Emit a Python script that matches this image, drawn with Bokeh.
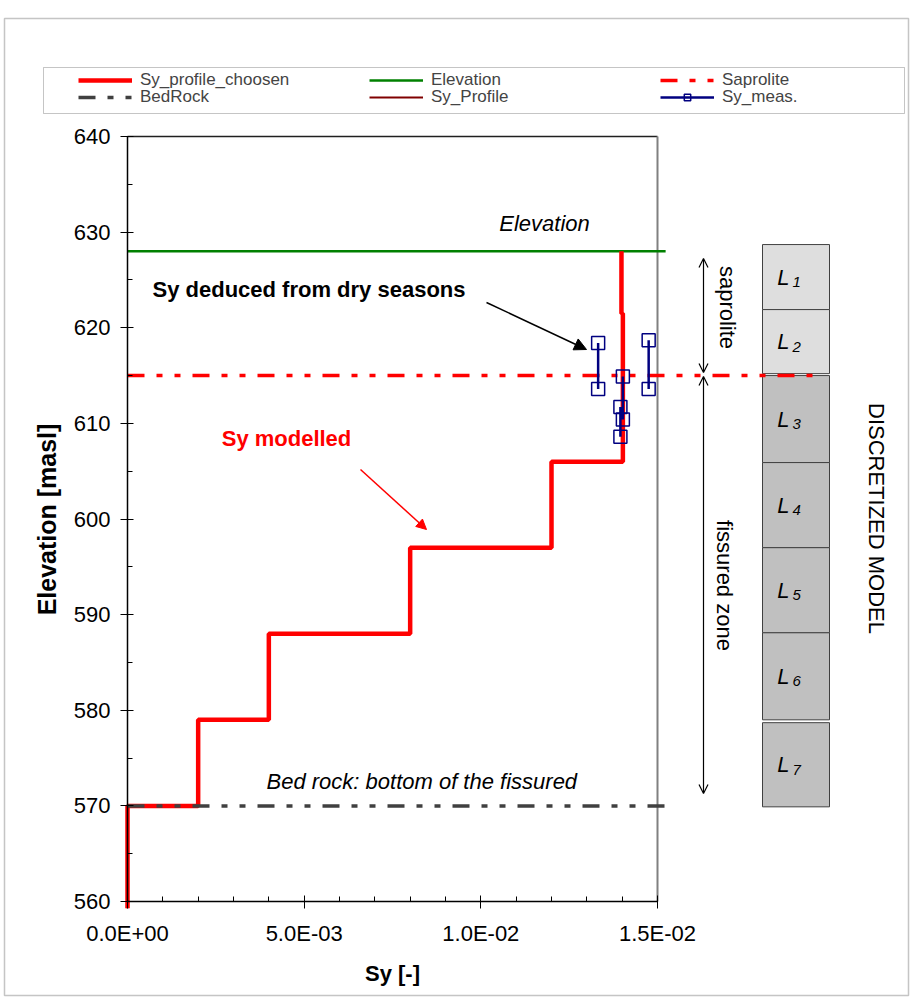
import math
from bokeh.plotting import figure
from bokeh.models import (Range1d, FixedTicker, Legend, LegendItem, Label, Arrow,
                          NormalHead, OpenHead, BoxAnnotation, ColumnDataSource, LinearAxis)
from bokeh.core.properties import value
from bokeh.embed import file_html
from bokeh.resources import INLINE

nan = float("nan")

# ---------------- data ----------------
profile_sy = [0.0, 0.0, 0.002, 0.002, 0.004, 0.004, 0.008, 0.008,
              0.012, 0.012, 0.01402, 0.01402, 0.01398, 0.01398]
profile_elev = [559.3, 570, 570, 579, 579, 588, 588, 597,
                597, 606, 606, 621.5, 621.5, 628]

elevation_sy = [0.0, 0.01523]
elevation_elev = [628, 628]

saprolite_sy = [0.0, 0.0197]
saprolite_elev = [615, 615]

bedrock_sy = [0.0, 0.01523]
bedrock_elev = [570, 570]

meas_sy = [0.01332, 0.01332, nan, 0.01475, 0.01475, nan,
           0.01402, 0.01402, nan, 0.01395, 0.01395]
meas_elev = [618.4, 613.6, nan, 618.7, 613.6, nan,
             614.9, 610.4, nan, 611.7, 608.6]

layer_names = ["1", "2", "3", "4", "5", "6", "7"]
layer_top = [628.7, 621.9, 615.0, 605.9, 597.0, 588.1, 578.7]
layer_bottom = [621.9, 615.2, 605.9, 597.0, 588.1, 579.0, 569.9]

x_ticks = [0.0, 0.005, 0.010, 0.015]
x_tick_labels = ["0.0E+00", "5.0E-03", "1.0E-02", "1.5E-02"]
x_minor = [0.001, 0.002, 0.003, 0.004, 0.006, 0.007, 0.008, 0.009,
           0.011, 0.012, 0.013, 0.014]
y_ticks = [560, 570, 580, 590, 600, 610, 620, 630, 640]
y_minor = [565, 575, 585, 595, 605, 615, 625, 635]

# ---------------- layout helpers ----------------
FONT = "Liberation Sans"
W, H = 910, 997
X_MIN, X_MAX = 0.0, 0.015
Y_MIN, Y_MAX = 560.0, 640.0
X0_PX, X1_PX = 127, 657          # page px of x = 0 and x = 0.015
Y1_PX, Y0_PX = 136, 901          # page px of y = 640 and y = 560
PX_PER_X = (X1_PX - X0_PX) / (X_MAX - X_MIN)
PX_PER_Y = (Y0_PX - Y1_PX) / (Y_MAX - Y_MIN)


def dx(px):
    return X_MIN + (px - X0_PX) / PX_PER_X


def dy(py):
    return Y_MAX - (py - Y1_PX) / PX_PER_Y


p = figure(width=W, height=H,
           x_range=Range1d(dx(0), dx(W)),
           y_range=Range1d(dy(H), dy(0)),
           x_axis_location=None, y_axis_location=None,
           output_backend="svg", toolbar_location=None,
           min_border=0, min_border_left=0, min_border_right=0,
           min_border_top=0, min_border_bottom=0,
           background_fill_color="white", border_fill_color="white",
           outline_line_color=None)
p.grid.visible = False

xaxis = LinearAxis(fixed_location=Y_MIN, bounds=(X_MIN, X_MAX),
                   ticker=FixedTicker(ticks=x_ticks, minor_ticks=x_minor),
                   major_label_overrides=dict(zip(x_ticks, x_tick_labels)),
                   major_label_standoff=12)
yaxis = LinearAxis(fixed_location=X_MIN, bounds=(Y_MIN, Y_MAX),
                   ticker=FixedTicker(ticks=y_ticks, minor_ticks=y_minor),
                   major_label_standoff=10)
for ax in (xaxis, yaxis):
    ax.axis_line_color = "black"
    ax.axis_line_width = 1.5
    ax.major_tick_line_color = "black"
    ax.minor_tick_line_color = "black"
    ax.major_tick_in = 6
    ax.major_tick_out = 7
    ax.minor_tick_in = 5
    ax.minor_tick_out = 0
    ax.major_label_text_font = FONT
    ax.major_label_text_font_size = "22px"
    ax.major_label_text_color = "black"
p.add_layout(xaxis, "below")
p.add_layout(yaxis, "left")

# outer chart border and plot-area border (top and right)
p.add_layout(BoxAnnotation(left=dx(4), right=dx(908), top=dy(18), bottom=dy(995),
                           fill_alpha=0, line_color="#404040", line_width=1.5))
p.line([X_MIN, X_MAX], [Y_MAX, Y_MAX], line_color="#202020", line_width=1.5)
p.line([X_MAX, X_MAX], [Y_MIN, Y_MAX], line_color="#808080", line_width=2)

# discretized model boxes
BOX_L, BOX_R = dx(762), dx(829)
layer_fill = ["#dedede", "#dedede", "#c0c0c0", "#c0c0c0", "#c0c0c0", "#c0c0c0", "#c0c0c0"]
box_src = ColumnDataSource(dict(top=layer_top, bottom=layer_bottom, fill=layer_fill,
                                mid=[(a + b) / 2 for a, b in zip(layer_top, layer_bottom)],
                                L=["L"] * len(layer_names), num=layer_names))
p.quad(left=BOX_L, right=BOX_R, top="top", bottom="bottom", source=box_src,
       fill_color="fill", line_color="#404040", line_width=1)
p.text(x=dx(789), y="mid", text="L", source=box_src, text_font=value(FONT),
       text_font_size="22px", text_font_style="italic", text_align="right",
       text_baseline="middle", text_color="black")
p.text(x=dx(792), y="mid", text="num", source=box_src, text_font=value(FONT),
       text_font_size="15px", text_font_style="italic", text_align="left",
       text_baseline="top", text_color="black")

# series
r_prof2 = p.line(profile_sy, profile_elev, line_color="#800000", line_width=2)
r_sap = p.line(saprolite_sy, saprolite_elev, line_color="#ff0000", line_width=3.5,
               line_dash="17 12 6 12 6 12")
r_elev = p.line(elevation_sy, elevation_elev, line_color="#008000", line_width=2.5)
r_prof = p.line(profile_sy, profile_elev, line_color="#ff0000", line_width=4.5)
r_bed = p.line(bedrock_sy, bedrock_elev, line_color="#404040", line_width=3.5,
               line_dash="17 12 6 12 6 12")
r_meas_l = p.line(meas_sy, meas_elev, line_color="#000080", line_width=2.5)
r_meas_s = p.scatter(meas_sy, meas_elev, marker="square", size=13, fill_alpha=0,
                     line_color="#000080", line_width=1.5)

# legend (two rows inside a framed box)
leg_kw = dict(orientation="horizontal", glyph_width=54, glyph_height=16,
              label_standoff=8, label_width=229, spacing=0, padding=0, margin=0,
              border_line_alpha=0, background_fill_alpha=0,
              label_text_font=FONT, label_text_font_size="17px")
ROW_H = 19.5
leg1 = Legend(items=[LegendItem(label="Sy_profile_choosen", renderers=[r_prof]),
                     LegendItem(label="Elevation", renderers=[r_elev]),
                     LegendItem(label="Saprolite", renderers=[r_sap])],
              location=(78, H - (80 + ROW_H / 2)), **leg_kw)
leg2 = Legend(items=[LegendItem(label="BedRock", renderers=[r_bed]),
                     LegendItem(label="Sy_Profile", renderers=[r_prof2]),
                     LegendItem(label="Sy_meas.", renderers=[r_meas_l, r_meas_s])],
              location=(78, H - (97.5 + ROW_H / 2)), **leg_kw)
p.add_layout(leg1)
p.add_layout(leg2)
p.add_layout(BoxAnnotation(left=dx(43), right=dx(904), top=dy(67), bottom=dy(113),
                           fill_alpha=0, line_color="#404040", line_width=1))


# texts
def lab(px, py, text, size="22px", style="normal", color="black", align="center", angle=0.0):
    p.add_layout(Label(x=dx(px), y=dy(py), text=text, text_font=FONT, text_font_size=size,
                       text_font_style=style, text_color=color, text_align=align,
                       text_baseline="middle", angle=angle))


lab(46, 519, "Elevation [masl]", size="25px", style="bold", angle=math.pi / 2)
lab(392, 973, "Sy [-]", style="bold")
lab(544, 223, "Elevation", style="italic")
lab(152, 289, "Sy deduced from dry seasons", style="bold", align="left")
lab(286, 438, "Sy modelled", style="bold", color="#ff0000")
lab(266, 781, "Bed rock: bottom of the fissured", style="italic", align="left")
lab(727, 307, "saprolite", angle=-math.pi / 2)
lab(724, 585, "fissured zone", angle=-math.pi / 2)
lab(876, 518, "DISCRETIZED MODEL", angle=-math.pi / 2)

# arrows
p.add_layout(Arrow(x_start=dx(486), y_start=dy(302), x_end=dx(586), y_end=dy(349),
                   line_color="black", line_width=1.5,
                   end=NormalHead(size=12, fill_color="black", line_color="black")))
p.add_layout(Arrow(x_start=dx(360), y_start=dy(469), x_end=dx(426), y_end=dy(529),
                   line_color="#ff0000", line_width=1.5,
                   end=NormalHead(size=10, fill_color="#ff0000", line_color="#ff0000")))
for y0, y1 in ((258, 372), (376, 793)):
    p.add_layout(Arrow(x_start=dx(703), y_start=dy(y0), x_end=dx(703), y_end=dy(y1),
                       line_color="black", line_width=1.2,
                       start=OpenHead(size=9, line_color="black", line_width=1.2),
                       end=OpenHead(size=9, line_color="black", line_width=1.2)))

open("out.html", "w").write(file_html(p, INLINE))
